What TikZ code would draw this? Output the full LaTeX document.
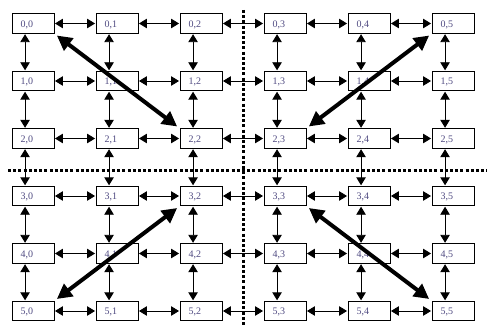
\documentclass[tikz,border=0pt]{standalone}
\usepackage{fontspec}
\setmainfont{Liberation Serif}
\usetikzlibrary{arrows.meta}
\definecolor{lbl}{RGB}{80,75,130}
\tikzset{
  cell/.style={draw=black, line width=0.9pt, fill=white, minimum width=42pt, minimum height=19.5pt, inner sep=0pt},
  lbltext/.style={font=\fontsize{10}{10}\selectfont, text=lbl, anchor=west, inner sep=0pt},
  link/.style={line width=0.9pt, {Triangle[length=8pt,width=9.5pt]}-{Triangle[length=8pt,width=9.5pt]}, shorten <=0.5pt, shorten >=0.5pt},
  big/.style={line width=4pt, {Triangle[length=15pt,width=15pt]}-{Triangle[length=15pt,width=15pt]}, shorten <=3pt, shorten >=3pt},
  divider/.style={line width=3pt, dash pattern=on 3pt off 2.2pt}
}
\begin{document}
\begin{tikzpicture}[x=1pt,y=-1pt]
\useasboundingbox (0,0) rectangle (487,326);
\coordinate (vtop) at (243,10);
\coordinate (vbot) at (243,326);
\coordinate (hl) at (8,170);
\coordinate (hr) at (487,170);
\draw[divider] (vtop) -- (vbot);
\draw[divider] (hl) -- (hr);
\foreach \r in {0,...,5}{
  \foreach \c in {0,...,5}{
    \node[cell] (n\r\c) at ({33+84*\c},{23.5+57.5*\r}) {};
    \node[lbltext] (t\r\c) at ({33+84*\c-12.5},{24.5+57.5*\r}) {\r,\c};
  }
}
\foreach \r in {0,...,5}{
  \foreach \c/\d in {0/1,1/2,2/3,3/4,4/5}{
    \draw[link] (n\r\c.east) -- (n\r\d.west);
  }
}
\foreach \r/\s in {0/1,1/2,2/3,3/4,4/5}{
  \foreach \c in {0,...,5}{
    \draw[link] ([xshift=13.5pt]n\r\c.south west) -- ([xshift=13.5pt]n\s\c.north west);
  }
}
\draw[big] (n00.south east) -- (n22.north west);
\draw[big] (n05.south west) -- (n23.north east);
\draw[big] (n32.south west) -- (n50.north east);
\draw[big] (n33.south east) -- (n55.north west);
\end{tikzpicture}
\end{document}
